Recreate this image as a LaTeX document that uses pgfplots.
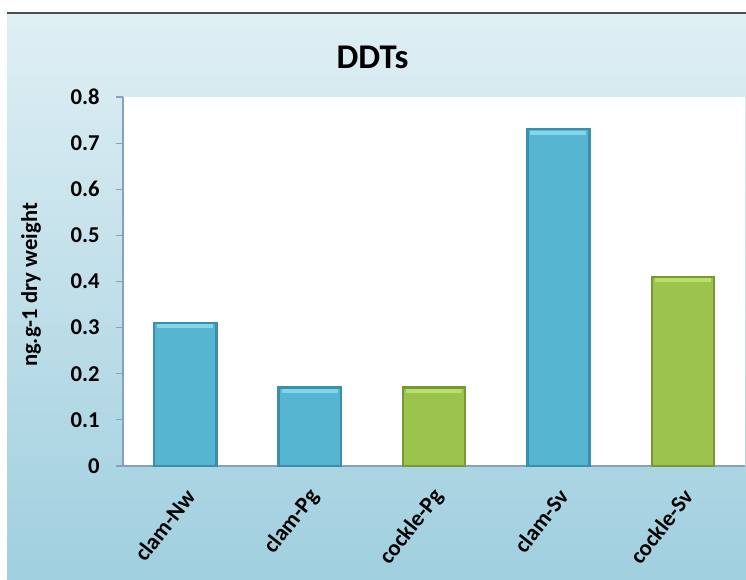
\documentclass[border=0pt]{standalone}
\usepackage{pgfplots}
\pgfplotsset{compat=1.18}
\usepackage{fontspec}
\setmainfont{Carlito}

\definecolor{panelTop}{RGB}{223,239,244}
\definecolor{panelBot}{RGB}{160,207,223}
\definecolor{axisBlue}{RGB}{134,160,196}
\definecolor{clamFill}{RGB}{86,182,210}
\definecolor{clamEdge}{RGB}{60,142,170}
\definecolor{clamCap}{RGB}{130,214,236}
\definecolor{cockleFill}{RGB}{156,196,76}
\definecolor{cockleEdge}{RGB}{120,152,54}
\definecolor{cockleCap}{RGB}{186,222,108}

\begin{document}
\begin{tikzpicture}[x=0.75pt,y=0.75pt]
  \useasboundingbox (0,0) rectangle (746,579);
  \fill[white] (0,0) rectangle (746,579);
  % chart panel
  \shade[top color=panelTop, bottom color=panelBot] (7,0) rectangle (746,565);
  \draw[line width=1.5pt, gray!60!black] (7,566) -- (746,566);

  \node[font=\bfseries\fontsize{26}{30}\selectfont, anchor=base] at (372.5,510) {DDTs};
  \node[font=\bfseries\fontsize{17}{20}\selectfont, rotate=90] at (31,294) {ng.g-1 dry weight};

  \begin{axis}[
    at={(92.25pt,84.75pt)}, anchor=south west,
    scale only axis,
    width=466.5pt, height=276.75pt,
    axis background/.style={fill=white},
    xmin=-0.5, xmax=4.5,
    ymin=0, ymax=0.8,
    ytick={0,0.1,...,0.8},
    xtick={0,1,2,3,4},
    xticklabels={clam-Nw,clam-Pg,cockle-Pg,clam-Sv,cockle-Sv},
    minor xtick={-0.5,0.5,1.5,2.5,3.5,4.5},
    xtick style={draw=none},
    minor tick length=4pt,
    major tick length=5pt,
    tick align=outside,
    axis lines*=left,
    axis line style={axisBlue, line width=0.8pt},
    every tick/.style={axisBlue, line width=0.8pt},
    minor x tick style={axisBlue, line width=0.8pt},
    ytick style={axisBlue, line width=0.8pt},
    tick label style={font=\bfseries\fontsize{17}{20}\selectfont},
    /pgf/number format/.cd, fixed, precision=1, assume math mode=true,
    /pgfplots/.cd,
    yticklabel style={xshift=-9pt},
    xticklabel style={anchor=east, xshift=6pt, yshift=-12pt, rotate=52},
    ybar, bar width=0.5, bar shift=0pt,
  ]
    % clam samples
    \addplot[fill=clamFill, draw=clamEdge, line width=1.8pt]
      coordinates {(0,0.31) (1,0.17) (3,0.73)};
    % cockle samples
    \addplot[fill=cockleFill, draw=cockleEdge, line width=1.8pt]
      coordinates {(2,0.17) (4,0.41)};
    % light bevel along the top of each bar
    \addplot[only marks, mark=-, mark size=21pt,
      mark options={clamCap, line width=3pt, yshift=-2.6pt}]
      coordinates {(0,0.31) (1,0.17) (3,0.73)};
    \addplot[only marks, mark=-, mark size=21pt,
      mark options={cockleCap, line width=3pt, yshift=-2.6pt}]
      coordinates {(2,0.17) (4,0.41)};
  \end{axis}
\end{tikzpicture}
\end{document}
